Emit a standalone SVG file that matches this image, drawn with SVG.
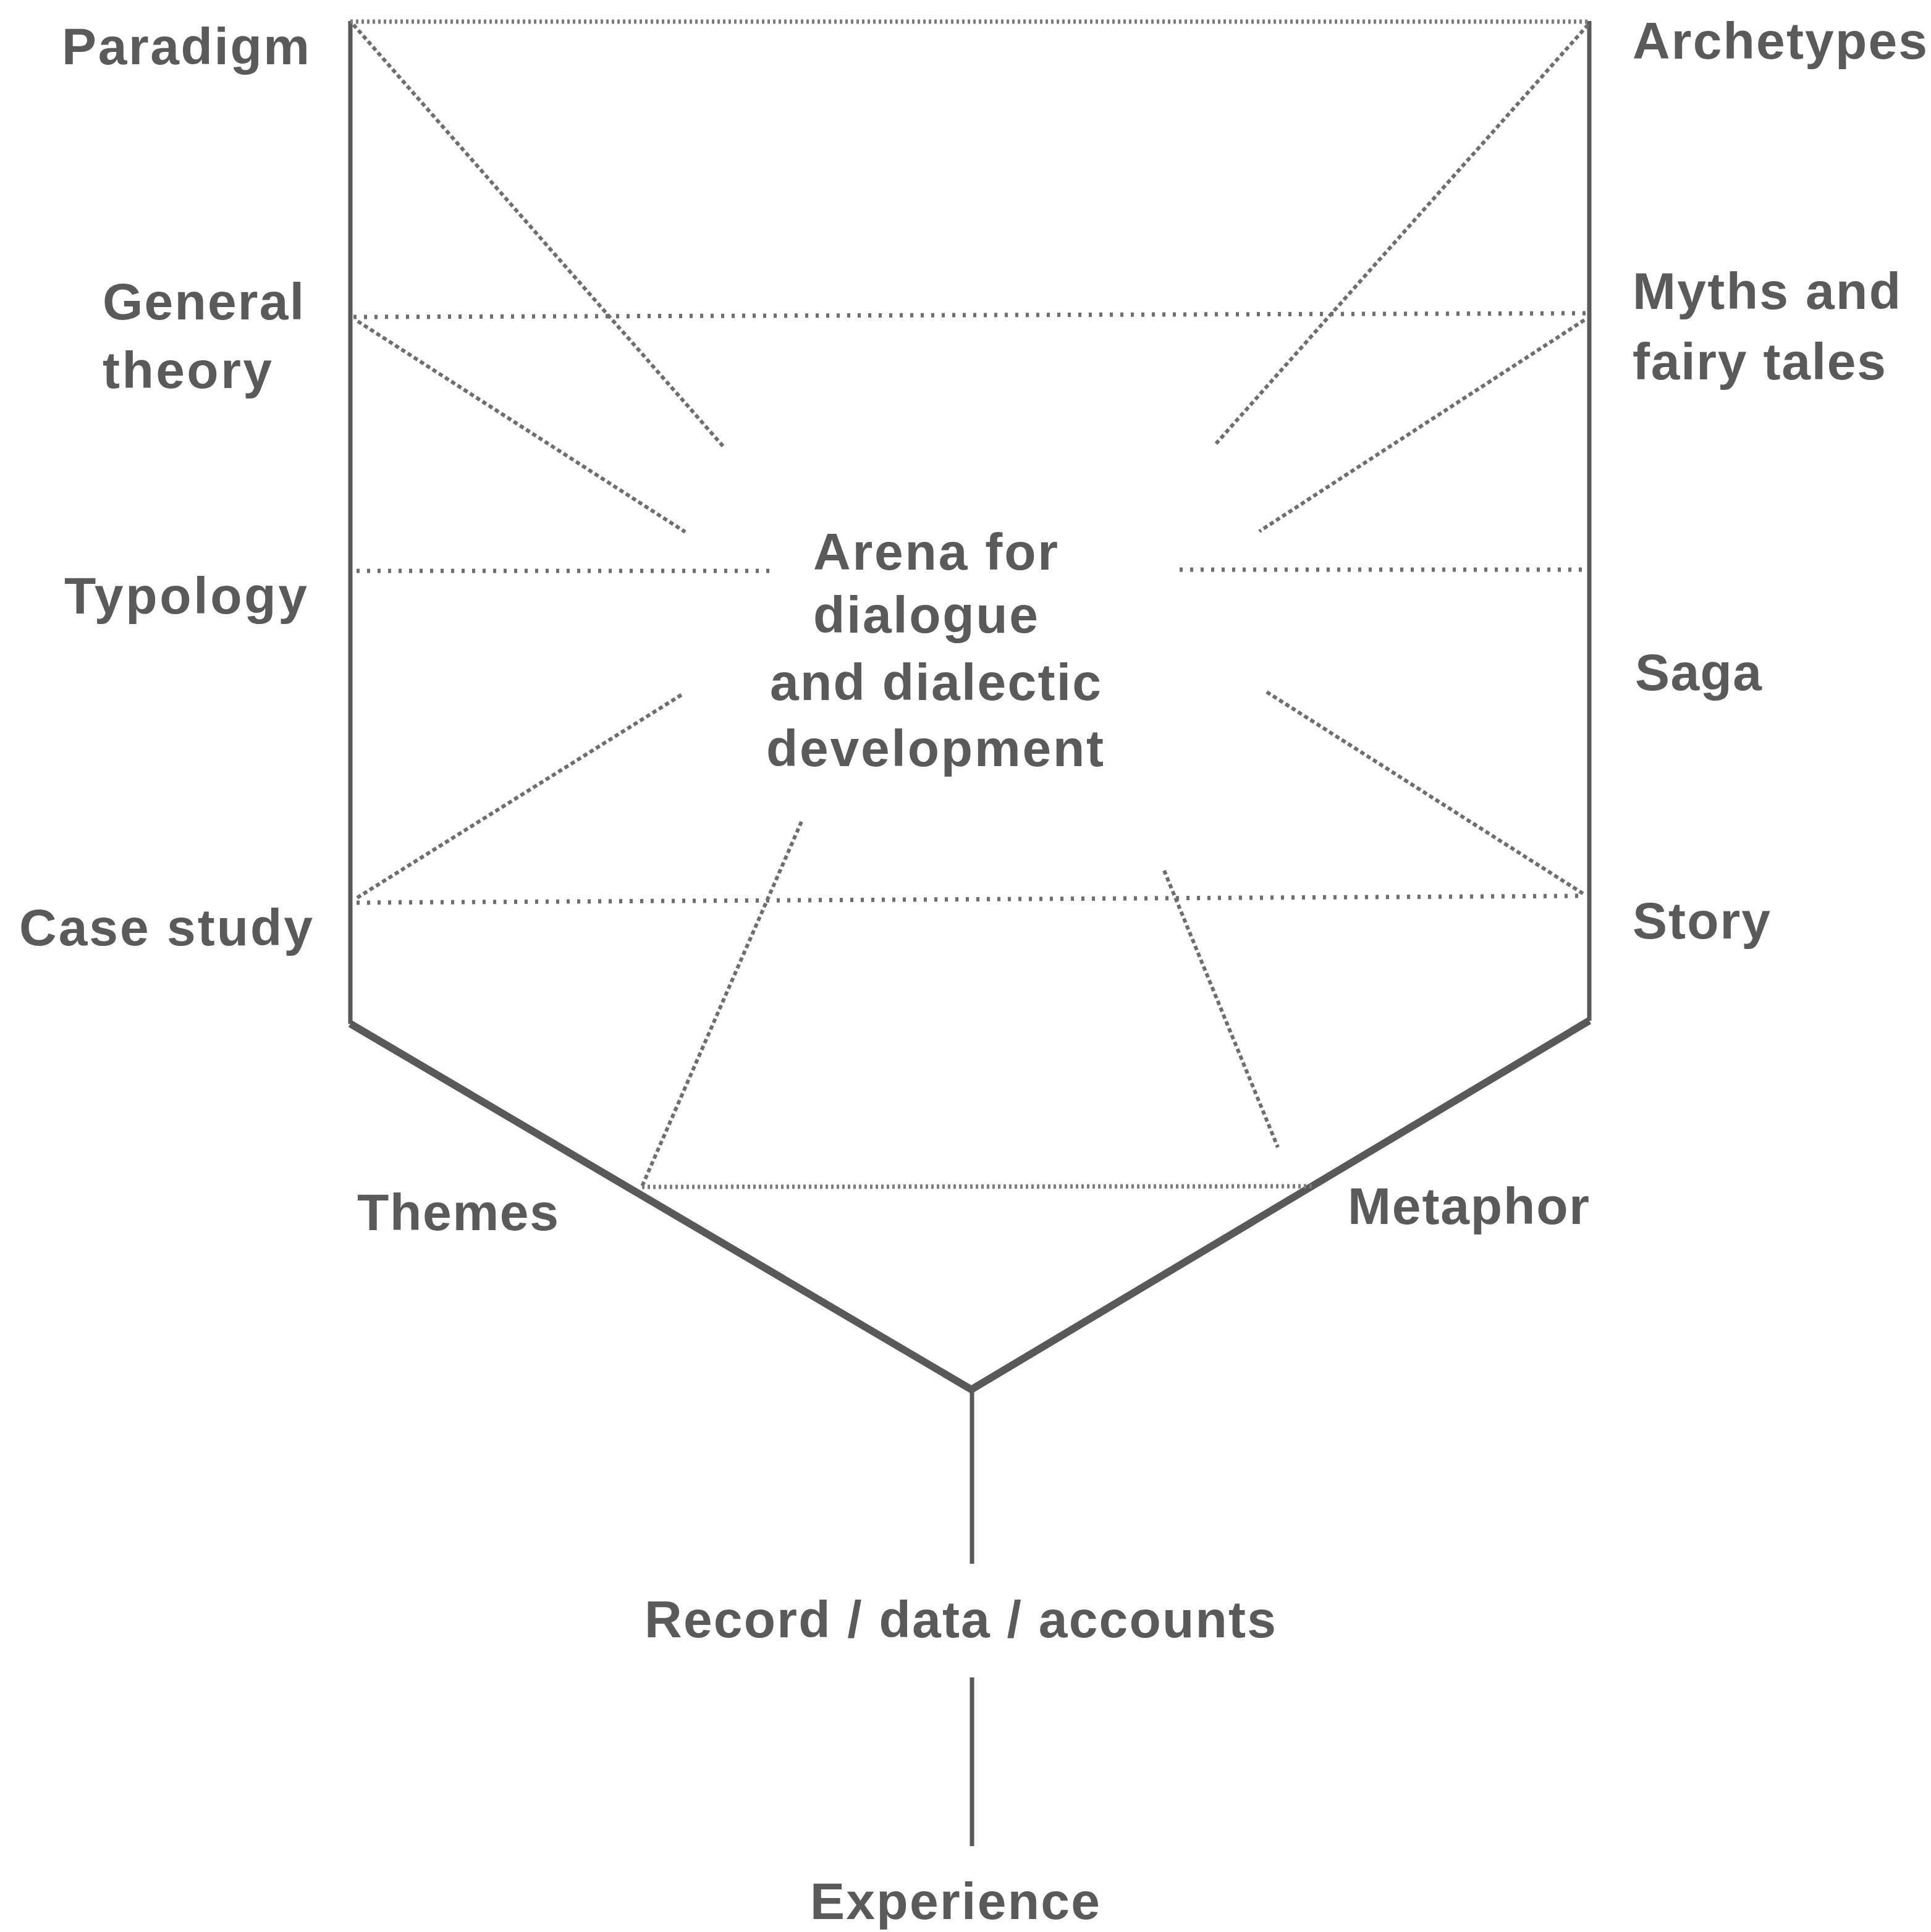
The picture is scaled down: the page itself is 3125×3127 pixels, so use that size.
<svg xmlns="http://www.w3.org/2000/svg" width="3125" height="3127" viewBox="0 0 3125 3127">
  <style>
    .lbl { font-family: "Liberation Sans", Arial, sans-serif; font-weight: bold; font-size: 84px; fill: #5a5a5a; }
    .frame { stroke: #595959; stroke-width: 7; fill: none; }
    .funnel { stroke: #595959; stroke-width: 12; fill: none; stroke-linejoin: miter; }
    .level { stroke: #6e6e6e; stroke-width: 7; fill: none; stroke-dasharray: 5 12; }
    .fine { stroke: #7c7c7c; stroke-width: 7; fill: none; stroke-dasharray: 4 5; }
    .ray { stroke: #6e6e6e; stroke-width: 6; fill: none; stroke-dasharray: 7 5; }
  </style>
  <rect x="0" y="0" width="3125" height="3127" fill="#fefefe"/>

  <g id="connectors">
    <!-- outer frame: two uprights, the funnel and the stem -->
    <line class="frame" x1="567" y1="34" x2="567" y2="1657"/>
    <line class="frame" x1="2572" y1="34" x2="2572" y2="1652"/>
    <polyline class="funnel" points="567,1657 1572,2249 2572,1652"/>
    <line class="frame" x1="1573" y1="2249" x2="1573" y2="2531"/>
    <line class="frame" x1="1573" y1="2715" x2="1573" y2="2988"/>

    <!-- horizontal levels -->
    <line class="fine" x1="567" y1="35" x2="2574" y2="35"/>
    <line class="level" x1="572" y1="513" x2="2568" y2="507"/>
    <line class="level" x1="577" y1="924" x2="1248" y2="924"/>
    <line class="level" x1="1909" y1="922" x2="2572" y2="922"/>
    <line class="level" x1="577" y1="1461" x2="2566" y2="1450"/>
    <line class="fine" x1="1039" y1="1921" x2="2124" y2="1920"/>

    <!-- rays converging on the central arena -->
    <line class="ray" x1="572" y1="40" x2="1170" y2="722"/>
    <line class="ray" x1="579" y1="520" x2="1109" y2="861"/>
    <line class="ray" x1="2570" y1="40" x2="1968" y2="718"/>
    <line class="ray" x1="2564" y1="518" x2="2038" y2="860"/>
    <line class="ray" x1="578" y1="1453" x2="1107" y2="1122"/>
    <line class="ray" x1="2050" y1="1120" x2="2563" y2="1447"/>
    <line class="ray" x1="1297" y1="1330" x2="1039" y2="1920"/>
    <line class="ray" x1="1884" y1="1409" x2="2068" y2="1857"/>
  </g>

  <g id="paradigm"><text class="lbl" x="100" y="104" textLength="401" lengthAdjust="spacing">Paradigm</text></g>
  <g id="general-theory">
    <text class="lbl" x="166" y="517" textLength="326" lengthAdjust="spacing">General</text>
    <text class="lbl" x="166" y="628" textLength="274" lengthAdjust="spacing">theory</text>
  </g>
  <g id="typology"><text class="lbl" x="104" y="993" textLength="393" lengthAdjust="spacing">Typology</text></g>
  <g id="case-study"><text class="lbl" x="31" y="1530" textLength="475" lengthAdjust="spacing">Case study</text></g>
  <g id="themes"><text class="lbl" x="578" y="1991" textLength="326" lengthAdjust="spacing">Themes</text></g>

  <g id="archetypes"><text class="lbl" x="2642" y="95" textLength="477" lengthAdjust="spacing">Archetypes</text></g>
  <g id="myths">
    <text class="lbl" x="2642" y="500" textLength="434" lengthAdjust="spacing">Myths and</text>
    <text class="lbl" x="2642" y="614" textLength="410" lengthAdjust="spacing">fairy tales</text>
  </g>
  <g id="saga"><text class="lbl" x="2646" y="1117" textLength="205" lengthAdjust="spacing">Saga</text></g>
  <g id="story"><text class="lbl" x="2642" y="1519" textLength="223" lengthAdjust="spacing">Story</text></g>
  <g id="metaphor"><text class="lbl" x="2181" y="1981" textLength="391" lengthAdjust="spacing">Metaphor</text></g>

  <g id="arena">
    <text class="lbl" x="1316" y="922" textLength="396" lengthAdjust="spacing">Arena for</text>
    <text class="lbl" x="1316" y="1024" textLength="364" lengthAdjust="spacing">dialogue</text>
    <text class="lbl" x="1246" y="1133" textLength="536" lengthAdjust="spacing">and dialectic</text>
    <text class="lbl" x="1240" y="1240" textLength="546" lengthAdjust="spacing">development</text>
  </g>

  <g id="record"><text class="lbl" x="1043" y="2650" textLength="1022" lengthAdjust="spacing">Record / data / accounts</text></g>
  <g id="experience"><text class="lbl" x="1311" y="3106" textLength="469" lengthAdjust="spacing">Experience</text></g>
</svg>
